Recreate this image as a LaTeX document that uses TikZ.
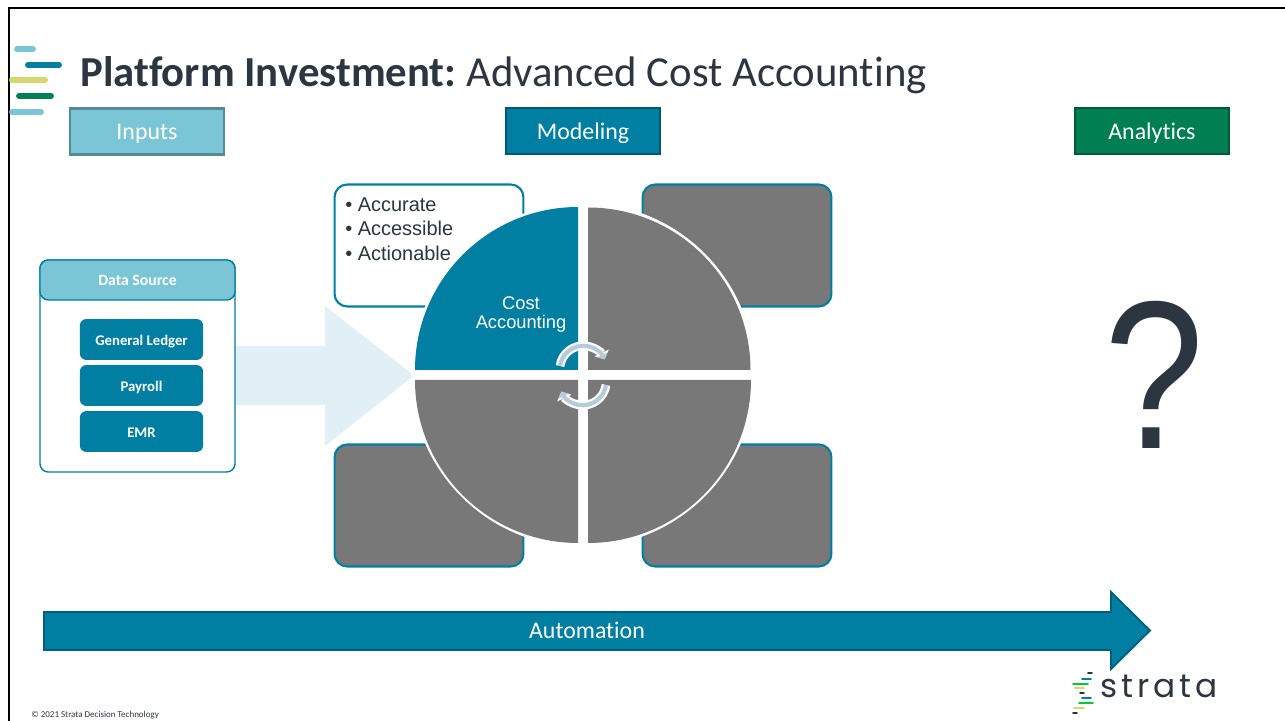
\documentclass[tikz,border=0pt]{standalone}
\usepackage{fontspec}
\setmainfont[Ligatures=NoCommon]{Carlito}
\newfontfamily\arialfont{Liberation Sans}
\newfontfamily\logofont[LetterSpace=12]{Poppins}
\usetikzlibrary{arrows.meta}

\definecolor{tealdark}{HTML}{007FA3}
\definecolor{teallight}{HTML}{7AC5D6}
\definecolor{greendark}{HTML}{007F52}
\definecolor{ink}{HTML}{2B3640}
\definecolor{slate}{HTML}{787878}
\definecolor{paleblue}{HTML}{E1F0F6}
\definecolor{cycleblue}{HTML}{B5CBD9}
\definecolor{barolive}{HTML}{D5D86A}

\tikzset{
	headbox/.style = {minimum width = 3.85cm, minimum height = 1.15cm, inner sep = 0, text = white, line width = 1.6pt, text height = 14pt, text depth = 2pt, font = \fontsize{17}{18}\selectfont},
	sourcebtn/.style = {fill = tealdark, rounded corners = 4.5pt, minimum width = 3.08cm, minimum height = 1.02cm, inner sep = 0, text = white, text height = 10pt, text depth = 2pt, font = \fontsize{10.5}{12}\selectfont\bfseries},
	cornerbox/.style = {draw = tealdark, rounded corners = 9pt, line width = 1.5pt, minimum width = 4.72cm, minimum height = 3.05cm, inner sep = 0},
	quarter/.style = {fill = #1},
	cycle/.style = {line width = 3pt},
	cycleback/.style = {white, line width = 6.2pt}
}

\begin{document}
\begin{tikzpicture}[x = 0.025cm, y = -0.025cm]
	\useasboundingbox (0,0) rectangle (1285,721);

	\draw [line width = 1.4pt](9,721)--(9,8)--(1285,8);

	% logo bars
	\foreach \xa/\xb/\yy/\col in {17/33/49/teallight, 28/59/65/tealdark, 12/45/80/barolive, 19/51/96/greendark, 12/41/112/teallight}
		\draw [\col, line width = 4.2pt, line cap = round](\xa,\yy)--(\xb,\yy);

	\node (title)[anchor = base west, inner sep = 0, text = ink, font = \fontsize{30.4}{32}\selectfont] at(80,86.5) {\textbf{Platform Investment:}\hspace{-2pt} Advanced Cost Accounting};

	\node (inputs)[headbox, fill = teallight, draw = teallight!70!black] at(147,131.5) {Inputs};
	\node (modeling)[headbox, fill = tealdark, draw = tealdark!70!black] at(583,131) {Modeling};
	\node (analytics)[headbox, fill = greendark, draw = greendark!70!black] at(1152,131) {Analytics};

	\fill [paleblue] (235,346)--(325,346)--(325,306)--(414,375.5)--(325,446)--(325,405)--(235,405)--cycle;

	\node (source)[draw = tealdark, fill = white, rounded corners = 6pt, line width = 1pt, minimum width = 4.875cm, minimum height = 5.3cm, inner sep = 0] at(137.5,366) {};
	\node (sourcehead)[draw = tealdark, fill = teallight, rounded corners = 6pt, line width = 1pt, minimum width = 4.875cm, minimum height = 1cm, inner sep = 0, text = white, text height = 10pt, text depth = 2pt, font = \fontsize{11.2}{12}\selectfont\bfseries] at(137.5,280) {Data Source};
	\node (ledger)[sourcebtn] at(141.5,339.5) {General Ledger};
	\node (payroll)[sourcebtn] at(141.5,385.5) {Payroll};
	\node (emr)[sourcebtn] at(141.5,431.5) {EMR};

	\node (boxa)[cornerbox, fill = white] at(429,245.5) {};
	\node (boxb)[cornerbox, fill = slate] at(737,245.5) {};
	\node (boxc)[cornerbox, fill = slate] at(429,505.5) {};
	\node (boxd)[cornerbox, fill = slate] at(737,505.5) {};

	\fill [quarter = white] (583,375) circle (172);
	\fill [quarter = tealdark] (578,370)--(415,370) arc (180:270:163)--cycle;
	\fill [quarter = slate] (588,370)--(588,207.5) arc (270:360:162.5)--cycle;
	\fill [quarter = slate] (578,380)--(415,380) arc (180:90:163)--cycle;
	\fill [quarter = slate] (588,380)--(751,380) arc (0:90:163)--cycle;

	\node (bullets)[anchor = north west, align = left, inner sep = 0, text = ink, font = \arialfont\fontsize{14.2}{17.4}\selectfont] at(345,197.5) {• Accurate\\• Accessible\\• Actionable};
	\node (cost)[align = center, inner sep = 0, text = white, font = \arialfont\fontsize{13}{13.5}\selectfont] at(521,315) {Cost\\Accounting};

	% turning arrows
	\draw [cycleback, -{Triangle[length = 5pt, width = 11pt]}](560,366) arc (188:335:23.5);
	\draw [cycleblue, cycle, -{Triangle[length = 3.5pt, width = 7.5pt]}](560,366) arc (188:335:23.5);
	\draw [cycleback, -{Triangle[length = 5pt, width = 11pt]}](606,385) arc (8:155:23.5);
	\draw [cycleblue, cycle, -{Triangle[length = 3.5pt, width = 7.5pt]}](606,385) arc (8:155:23.5);

	\node (question)[inner sep = 0, text = ink, font = \arialfont\fontsize{150}{150}\selectfont] at(1154,375) {\scalebox{0.85}[1]{?}};

	\draw [fill = tealdark, draw = tealdark!75!black, line width = 1.3pt] (44,612)--(1111,612)--(1111,592)--(1150,630.5)--(1111,669)--(1111,650)--(44,650)--cycle;
	\node (automation)[inner sep = 0, text = white, font = \fontsize{17}{18}\selectfont] at(587,630.5) {Automation};

	% small logo
	\foreach \xa/\xb/\yy/\col in {1088/1092/673/ink, 1082/1091/679/tealdark, 1073/1088/684/green!60!teal, 1075/1084/688/barolive, 1080/1084/693/ink, 1082/1091/698/tealdark, 1079/1093/703/green!60!teal, 1074/1084/708/barolive, 1073/1077/713/ink}
		\draw [\col, line width = 1.3pt, line cap = round](\xa,\yy)--(\xb,\yy);
	\node (strata)[anchor = base west, inner sep = 0, text = ink, font = \logofont\fontsize{23.3}{24}\selectfont] at(1100,697) {strata};

	\node (footer)[anchor = base west, inner sep = 0, text = ink, font = \fontsize{6.4}{7}\selectfont] at(31,717) {© 2021 Strata Decision Technology};
\end{tikzpicture}
\end{document}
